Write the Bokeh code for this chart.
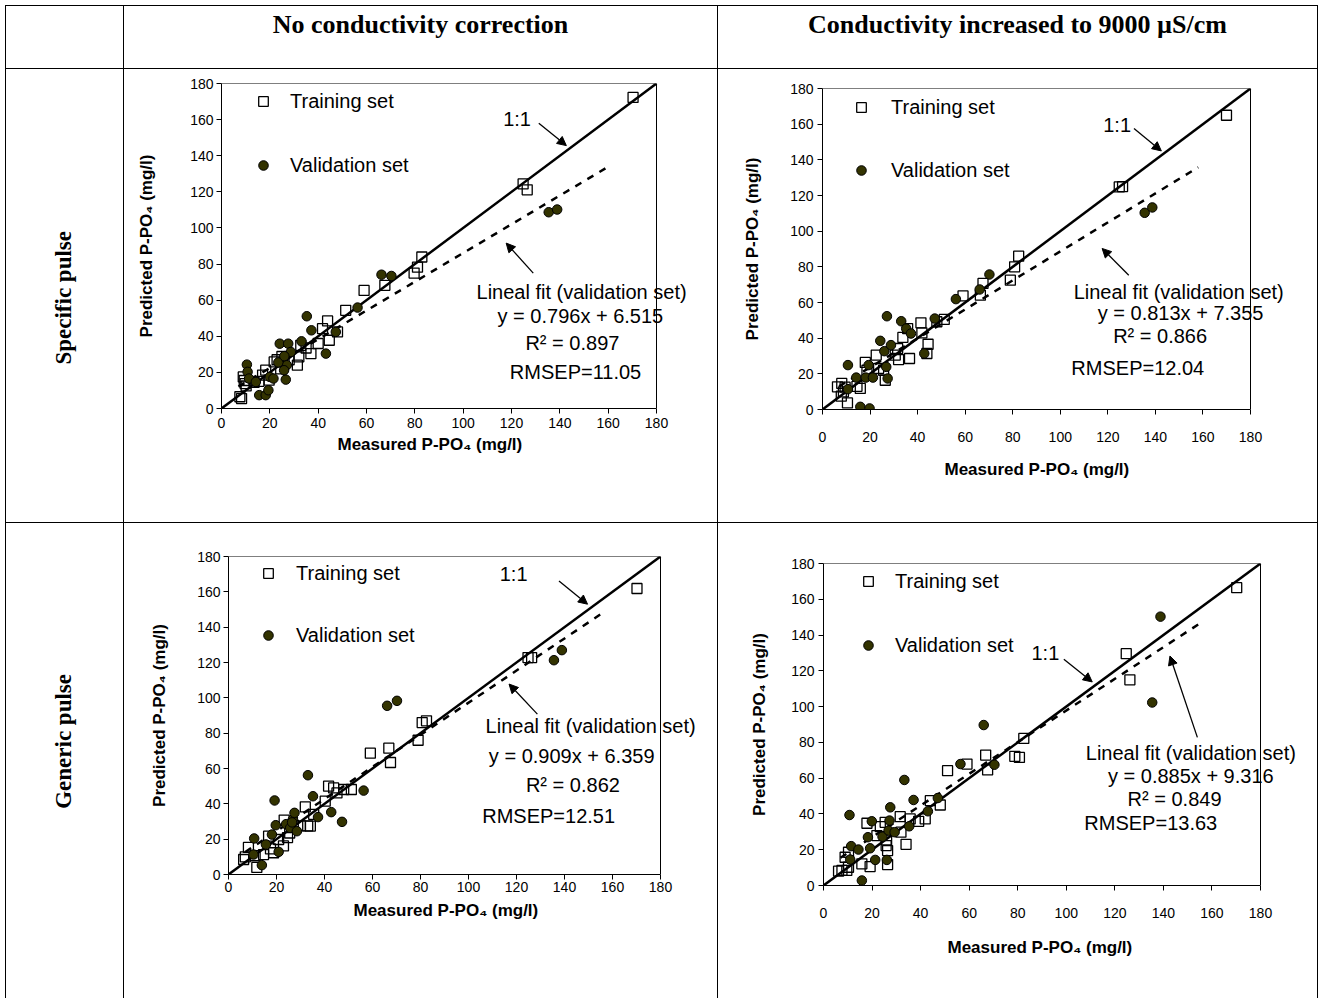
from bokeh.plotting import figure
from bokeh.models import Range1d, Legend, LegendItem, Label, Arrow, NormalHead, Div, Spacer, Title
from bokeh.layouts import row, column
from bokeh.embed import file_html
from bokeh.resources import INLINE

# ---------------- data ----------------
ticks = [0, 20, 40, 60, 80, 100, 120, 140, 160, 180]
identity_line = [0, 180]

col_titles = ["No conductivity correction", "Conductivity increased to 9000 µS/cm"]
row_titles = ["Specific pulse", "Generic pulse"]
x_title = "Measured P-PO₄ (mg/l)"
y_title = "Predicted P-PO₄ (mg/l)"
train_label = "Training set"
valid_label = "Validation set"

fit_slopes = [0.796, 0.813, 0.909, 0.885]
fit_intercepts = [6.515, 7.355, 6.359, 9.316]
fit_r2 = ["0.897", "0.866", "0.862", "0.849"]
fit_rmsep = ["11.05", "12.04", "12.51", "13.63"]
fit_x_start = [7, 7, 7, 7]
fit_x_end = [159, 158, 155, 156]

# panel 1: specific pulse, no conductivity correction
p1_train_x = [7.6, 8.3, 9.0, 9.4, 9.8, 10.2, 13.5, 15.5, 18.3, 19.7, 17.0, 21.8, 23.0, 25.0, 25.9, 24.5,
              28.0, 31.4, 32.0, 32.8, 35.0, 37.0, 40.0, 41.8, 43.9, 44.6, 48.0, 51.4, 59.0, 67.6, 79.7,
              81.1, 82.9, 124.8, 126.5, 170.3]
p1_train_y = [6.5, 5.5, 17.5, 15.5, 13.8, 12.5, 14.5, 15.0, 21.2, 15.7, 18.5, 25.8, 27.0, 28.8, 25.8, 22.0,
              27.0, 24.0, 28.6, 35.0, 33.5, 30.4, 36.0, 44.2, 48.5, 37.8, 42.4, 54.4, 65.4, 68.2, 75.0,
              78.3, 83.9, 124.4, 121.1, 172.3]
p1_valid_x = [10.5, 10.8, 11.4, 14.2, 15.6, 18.3, 19.4, 20.0, 21.5, 24.1, 27.6, 27.0, 26.6, 25.9, 28.7,
              33.1, 35.3, 37.2, 43.2, 47.3, 56.3, 66.2, 70.3, 135.4, 138.9, 23.5, 26.0]
p1_valid_y = [24.3, 20.3, 16.6, 14.7, 7.4, 7.4, 10.1, 17.5, 16.6, 35.9, 35.9, 24.0, 16.0, 21.2, 31.3,
              37.2, 51.1, 43.3, 30.4, 42.4, 55.9, 74.1, 73.4, 108.7, 110.2, 25.5, 29.0]

# panel 2: specific pulse, conductivity increased
p2_train_x = [6.3, 8.1, 8.8, 7.9, 10.5, 9.5, 15.9, 14.5, 18.0, 18.7, 22.6, 23.6, 25.7, 26.4, 30.6, 31.6,
              32.0, 33.8, 35.8, 36.6, 41.4, 41.8, 44.4, 43.9, 48.1, 51.2, 59.1, 66.4, 67.5, 79.0, 80.8,
              82.5, 124.8, 126.2, 169.9]
p2_train_y = [12.7, 14.6, 9.9, 7.5, 3.7, 12.5, 11.8, 13.0, 26.4, 22.0, 30.5, 23.0, 22.0, 16.4, 30.5, 34.2,
              28.0, 40.4, 45.4, 28.6, 48.6, 43.0, 36.6, 31.4, 49.2, 50.5, 63.7, 64.1, 70.7, 72.5, 80.0,
              86.0, 124.8, 125.0, 165.0]
p2_valid_x = [10.7, 10.7, 14.2, 15.9, 18.2, 19.4, 19.8, 21.2, 24.3, 26.0, 26.8, 27.4, 27.1, 28.8, 33.1,
              35.2, 37.2, 42.8, 47.2, 56.1, 66.1, 70.2, 135.5, 138.7]
p2_valid_y = [24.9, 11.4, 17.9, 1.5, 17.9, 24.9, 0.6, 17.9, 38.5, 32.7, 23.9, 17.4, 52.3, 36.1, 49.5,
              45.4, 42.6, 31.4, 51.0, 61.9, 67.3, 75.7, 110.3, 113.3]

# panel 3: generic pulse, no conductivity correction
p3_train_x = [6.3, 7.0, 8.3, 11.8, 11.1, 14.6, 16.7, 18.8, 17.5, 20.9, 22.9, 23.2, 24.6, 25.5, 27.0,
              30.0, 32.0, 33.0, 34.1, 35.5, 40.3, 41.7, 43.8, 45.2, 48.0, 51.2, 59.1, 66.8, 67.5, 79.0,
              80.7, 82.5, 124.8, 126.3, 170.2]
p3_train_y = [8.5, 10.0, 15.3, 4.0, 10.6, 11.3, 21.7, 12.3, 14.5, 19.8, 16.2, 30.8, 20.9, 23.5, 28.0,
              27.5, 38.3, 27.5, 27.4, 34.0, 41.5, 50.0, 49.0, 46.2, 48.1, 48.1, 68.7, 71.5, 63.4, 76.0,
              86.0, 87.0, 122.8, 122.8, 161.9]
p3_valid_x = [10.7, 10.4, 13.9, 15.6, 18.1, 19.2, 19.7, 20.9, 24.0, 25.7, 26.8, 27.5, 26.5, 28.5, 33.1,
              35.2, 37.3, 42.8, 47.3, 56.3, 66.1, 70.2, 135.6, 138.9]
p3_valid_y = [20.4, 11.3, 5.3, 17.0, 22.6, 41.9, 27.9, 12.8, 28.5, 26.4, 31.1, 34.9, 29.5, 24.5, 56.2,
              44.3, 32.5, 35.3, 29.8, 47.5, 95.5, 98.3, 121.3, 127.0]

# panel 4: generic pulse, conductivity increased
p4_train_x = [6.2, 7.6, 9.6, 10.3, 8.9, 10.3, 15.8, 19.2, 17.9, 22.0, 23.4, 25.4, 25.8, 26.4, 26.4, 26.0,
              31.6, 31.9, 34.0, 35.7, 39.2, 41.9, 44.0, 48.1, 51.1, 59.1, 66.8, 67.6, 78.8, 80.7, 82.5,
              124.7, 126.2, 170.2]
p4_train_y = [8.0, 8.4, 8.4, 10.2, 15.8, 18.6, 12.1, 10.6, 34.8, 27.9, 32.9, 35.3, 22.3, 19.5, 11.7, 25.5,
              38.5, 29.8, 23.0, 37.2, 35.9, 37.2, 47.4, 45.0, 64.2, 67.9, 72.9, 64.6, 72.2, 71.6, 82.2,
              129.6, 115.0, 166.5]
p4_valid_x = [10.7, 11.4, 11.0, 15.8, 14.4, 18.3, 19.2, 19.9, 21.3, 24.3, 26.1, 26.8, 27.2, 27.5, 29.3,
              33.3, 35.3, 37.1, 43.0, 47.1, 56.4, 66.0, 70.4, 135.4, 138.8]
p4_valid_y = [39.4, 22.0, 14.5, 2.8, 20.1, 27.0, 20.8, 35.9, 14.3, 27.3, 14.3, 30.7, 36.3, 43.7, 29.8,
              59.0, 33.1, 47.8, 41.5, 48.9, 67.9, 89.7, 67.5, 102.3, 150.3]

# ---------------- layout / style ----------------
FONT = "Liberation Sans"
SERIF = "Liberation Serif"
ANN_SIZE = "20px"
EXTRA_PX = 48   # room right of the 180 border for the fit texts that run past it

panels_cfg = [
    dict(w=593, h=453, bl=97, br=61, bt=14, bb=114, ylab=3, ytit=31, xlab=4, xtit=5, xoff=116,
         leg=(30, 231), leg_sp=40, leg_so=15,
         one=(122.3, 160.6), one_arrow=(131.3, 158, 142.7, 145.6), fit_arrow=(129, 75, 117.8, 91.6),
         txt=[(149, 64.3), (148.5, 51.1), (145.2, 36.1), (146.5, 20.1)]),
    dict(w=599, h=453, bl=104, br=67, bt=19, bb=113, ylab=4, ytit=25, xlab=17, xtit=26, xoff=122,
         leg=(27, 227), leg_sp=39, leg_so=18,
         one=(123.9, 159.4), one_arrow=(131, 157.6, 142.5, 145), fit_arrow=(128.8, 75.3, 117.6, 90.3),
         txt=[(149.8, 65.8), (150.6, 54), (142, 41.1), (132.6, 23.3)]),
    dict(w=593, h=475, bl=104, br=57, bt=33, bb=124, ylab=3, ytit=25, xlab=2, xtit=8, xoff=125,
         leg=(28, 227), leg_sp=38, leg_so=16,
         one=(118.8, 170), one_arrow=(137.7, 166.2, 149.6, 153), fit_arrow=(128.7, 90.8, 116.9, 107.8),
         txt=[(150.9, 84.2), (143, 67.2), (143.5, 50.8), (133.4, 33.2)]),
    dict(w=599, h=475, bl=105, br=57, bt=40, bb=113, ylab=4, ytit=19, xlab=17, xtit=30, xoff=124,
         leg=(33, 228), leg_sp=40, leg_so=15,
         one=(91.4, 130), one_arrow=(99, 126.5, 110.7, 113.8), fit_arrow=(154, 82.8, 142.7, 128.3),
         txt=[(151.3, 74.2), (151.3, 61.4), (144.6, 48.5), (134.8, 35.2)]),
]

series = [
    (p1_train_x, p1_train_y, p1_valid_x, p1_valid_y),
    (p2_train_x, p2_train_y, p2_valid_x, p2_valid_y),
    (p3_train_x, p3_train_y, p3_valid_x, p3_valid_y),
    (p4_train_x, p4_train_y, p4_valid_x, p4_valid_y),
]


def make_panel(i):
    cfg = panels_cfg[i]
    tx, ty, vx, vy = series[i]
    fw = cfg["w"] - cfg["bl"] - cfg["br"]
    x_end = identity_line[1] * (fw + EXTRA_PX) / fw
    p = figure(width=cfg["w"], height=cfg["h"],
               x_range=Range1d(identity_line[0], x_end), y_range=Range1d(identity_line[0], identity_line[1]),
               output_backend="svg", toolbar_location=None, title=None,
               min_border_left=cfg["bl"], min_border_right=cfg["br"] - EXTRA_PX,
               min_border_top=cfg["bt"], min_border_bottom=cfg["bb"])
    p.margin = 0
    p.background_fill_color = "white"
    p.border_fill_color = "white"
    p.grid.visible = False
    p.outline_line_color = None

    for ax in (p.xaxis, p.yaxis):
        ax.ticker = ticks
        ax.bounds = (identity_line[0], identity_line[1])
        ax.minor_tick_line_color = None
        ax.major_tick_in = 0
        ax.major_tick_out = 5
        ax.major_tick_line_color = "black"
        ax.axis_line_color = "black"
        ax.axis_line_width = 1
        ax.major_label_text_font = FONT
        ax.major_label_text_font_size = "14px"
        ax.major_label_text_color = "black"
        ax.axis_label_text_font = FONT
        ax.axis_label_text_font_size = "17px"
        ax.axis_label_text_font_style = "bold"
        ax.axis_label_text_color = "black"
    p.yaxis.axis_label = y_title
    p.xaxis.major_label_standoff = cfg["xlab"]
    p.yaxis.major_label_standoff = cfg["ylab"]
    p.yaxis.axis_label_standoff = cfg["ytit"]

    # x-axis title placed below the axis, under the 0..180 span
    t = Title(text=x_title, align="left", offset=cfg["xoff"], text_font=FONT, text_font_size="17px",
              text_font_style="bold", text_color="black")
    if "standoff" in Title.properties():
        t.standoff = cfg["xtit"]
    p.add_layout(t, "below")

    # plot-area border (top and right sides at the axis maximum)
    top = [identity_line[1], identity_line[1]]
    p.line(identity_line, top, line_color="black", line_width=1)
    p.line(top, identity_line, line_color="black", line_width=1)

    # 1:1 line
    p.line(identity_line, identity_line, line_color="black", line_width=2.5)
    # lineal fit of validation set
    a, b = fit_slopes[i], fit_intercepts[i]
    fx = [fit_x_start[i], fit_x_end[i]]
    fy = [a * x + b for x in fx]
    p.line(fx, fy, line_color="black", line_width=2.5, line_dash="7 7")

    sq = p.scatter(tx, ty, marker="square", size=10, fill_alpha=0, line_color="black", line_width=1.3)
    ci = p.scatter(vx, vy, marker="circle", size=9.5, fill_color="#333300", line_color="black", line_width=1)

    legend = Legend(items=[LegendItem(label=train_label, renderers=[sq]),
                           LegendItem(label=valid_label, renderers=[ci])],
                    location=cfg["leg"], glyph_width=24, glyph_height=24, label_height=24,
                    spacing=cfg["leg_sp"], padding=0, margin=0, label_standoff=cfg["leg_so"],
                    border_line_alpha=0, background_fill_alpha=0,
                    label_text_font=FONT, label_text_font_size=ANN_SIZE, label_text_color="black")
    p.add_layout(legend)

    ox, oy = cfg["one"]
    p.add_layout(Label(x=ox, y=oy, text="1:1", text_font=FONT, text_font_size=ANN_SIZE,
                       text_align="center", text_baseline="middle", text_color="black"))
    x0, y0, x1, y1 = cfg["one_arrow"]
    p.add_layout(Arrow(x_start=x0, y_start=y0, x_end=x1, y_end=y1, line_width=1.3, line_color="black",
                       end=NormalHead(size=9, fill_color="black", line_color="black")))
    x0, y0, x1, y1 = cfg["fit_arrow"]
    p.add_layout(Arrow(x_start=x0, y_start=y0, x_end=x1, y_end=y1, line_width=1.3, line_color="black",
                       end=NormalHead(size=9, fill_color="black", line_color="black")))

    texts = ["Lineal fit (validation set)",
             f"y = {a}x + {b}",
             f"R² = {fit_r2[i]}",
             f"RMSEP={fit_rmsep[i]}"]
    for t_, (tx_, ty_) in zip(texts, cfg["txt"]):
        p.add_layout(Label(x=tx_, y=ty_, text=t_, text_font=FONT, text_font_size=ANN_SIZE,
                           text_align="center", text_baseline="middle", text_color="black"))
    return p


def vline(h):
    return Div(text="", width=1, height=h, margin=0, styles={"background-color": "black"})


def hline(w):
    return Div(text="", width=w, height=1, margin=0, styles={"background-color": "black"})


def header_div(text, w, h):
    html = (f'<div style="width:{w}px;height:{h}px;box-sizing:border-box;padding-top:6px;'
            f'text-align:center;font-family:\'{SERIF}\';font-weight:bold;font-size:26px;'
            f'line-height:26px;color:black;">{text}</div>')
    return Div(text=html, width=w, height=h, margin=0)


def rowlabel_div(text, w, h, shift):
    html = (f'<div style="width:{w}px;height:{h}px;display:flex;align-items:center;justify-content:center;">'
            f'<div style="writing-mode:vertical-rl;transform:rotate(180deg);font-family:\'{SERIF}\';'
            f'font-weight:bold;font-size:23px;color:black;{shift}">{text}</div></div>')
    return Div(text=html, width=w, height=h, margin=0)


LEFT = 5
WA, WB, WC = 117, 593, 599
H0, H1, H2 = 62, 453, 475
TOTAL_W = 1 + WA + 1 + WB + 1 + WC + 1

panels = [make_panel(i) for i in range(4)]


def wrap(p):
    # own column so that plots in one row keep their own frame position
    return column(p, spacing=0, margin=0)


def table_row(cells, h):
    kids = [Spacer(width=LEFT, height=h, margin=0), vline(h)]
    for c in cells:
        kids += [c, vline(h)]
    return row(*kids, spacing=0, margin=0)


def hrule():
    return row(Spacer(width=LEFT, height=1, margin=0), hline(TOTAL_W), spacing=0, margin=0)


layout = column(
    Spacer(width=10, height=5, margin=0),
    hrule(),
    table_row([Div(text="", width=WA, height=H0, margin=0),
               header_div(col_titles[0], WB, H0),
               header_div(col_titles[1], WC, H0)], H0),
    hrule(),
    table_row([rowlabel_div(row_titles[0], WA, H1, "margin-top:5px;"), wrap(panels[0]), wrap(panels[1])], H1),
    hrule(),
    table_row([rowlabel_div(row_titles[1], WA, H2, "margin-bottom:38px;"), wrap(panels[2]), wrap(panels[3])], H2),
    spacing=0, margin=0,
)

open("out.html", "w").write(file_html(layout, INLINE))
